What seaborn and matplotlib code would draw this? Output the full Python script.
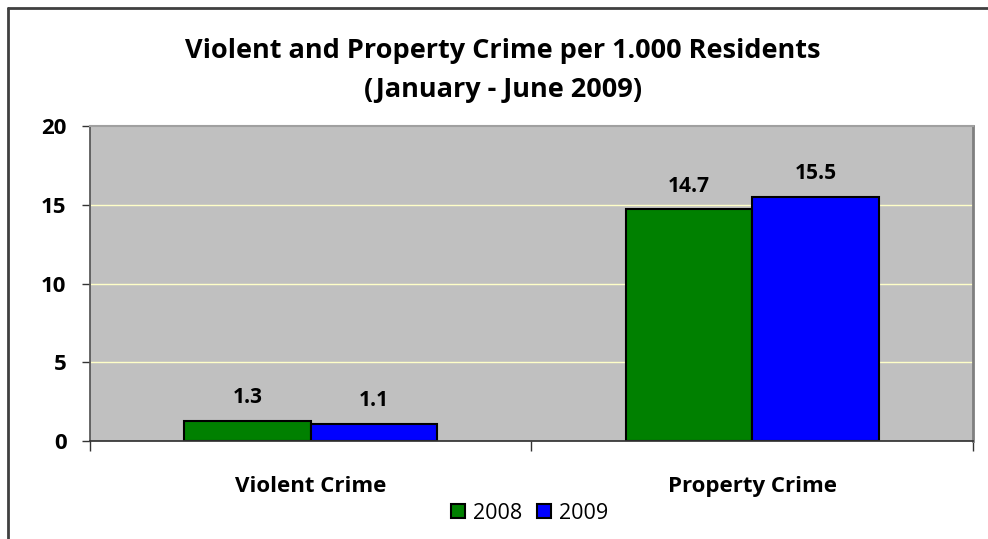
import matplotlib
matplotlib.use("Agg")
import matplotlib.pyplot as plt
from matplotlib.lines import Line2D
from matplotlib.ticker import FixedLocator
import pandas as pd
import seaborn as sns

categories = ["Violent Crime", "Property Crime"]
years = ["2008", "2009"]
values_2008 = [1.3, 14.7]
values_2009 = [1.1, 15.5]
y_ticks = [0, 5, 10, 15, 20]
title_lines = ["Violent and Property Crime per 1.000 Residents", "(January - June 2009)"]

df = pd.DataFrame({
    "category": categories * 2,
    "year": [years[0]] * 2 + [years[1]] * 2,
    "value": values_2008 + values_2009,
})

sns.set_theme(style="white")
plt.rcParams["font.family"] = ["Open Sans", "DejaVu Sans"]
plt.rcParams["text.color"] = "black"
plt.rcParams["xtick.color"] = "black"
plt.rcParams["ytick.color"] = "black"

fig = plt.figure(figsize=(9.88, 5.39), dpi=100)
ax = fig.add_axes([0.0911, 0.1818, 0.8937, 0.5844])
ax.set_facecolor("#C0C0C0")

palette = {"2008": "#008000", "2009": "#0000FF"}
sns.barplot(data=df, x="category", y="value", hue="year", order=categories,
            hue_order=years, palette=palette, width=0.572, gap=0,
            edgecolor="black", linewidth=1.5, saturation=1, ax=ax)

for cont in ax.containers:
    ax.bar_label(cont, fmt="%.1f", padding=9, fontsize=15, fontweight="bold", color="black")

ax.set_xlim(-0.5, 1.5)
ax.set_ylim(0, 20)
ax.set_yticks(y_ticks)
ax.set_yticklabels([str(t) for t in y_ticks], fontsize=16, fontweight="bold")
ax.tick_params(axis="y", length=6, width=1, color="#333333", labelcolor="black",
               pad=11, left=True, direction="out")
ax.set_xticklabels(categories, fontsize=16, fontweight="bold")
ax.tick_params(axis="x", which="major", length=0, pad=25, labelcolor="black")
ax.xaxis.set_minor_locator(FixedLocator([-0.5, 0.5, 1.5]))
ax.tick_params(axis="x", which="minor", length=7, width=1, color="#333333", bottom=True, direction="out")
ax.set_xlabel("")
ax.set_ylabel("")

for y in y_ticks[1:-1]:
    ax.axhline(y, color="#FFFFC8", linewidth=1, zorder=0.5)
ax.set_axisbelow(True)

ax.spines["left"].set_color("#555555")
ax.spines["bottom"].set_color("#333333")
ax.spines["top"].set_color("#A0A0A0")
ax.spines["right"].set_color("#808080")
ax.spines["right"].set_linewidth(2)
ax.spines["top"].set_linewidth(1.5)

leg = ax.legend(loc="center", bbox_to_anchor=(0.536, 0.048), bbox_transform=fig.transFigure,
                ncol=2, frameon=False, fontsize=15.5, handlelength=0.65, handleheight=0.65,
                handletextpad=0.35, columnspacing=0.7, borderpad=0)
for t in leg.get_texts():
    t.set_color("black")

fig.text(0.509, 0.892, title_lines[0], ha="center", va="baseline", fontsize=19.5,
         fontweight="bold", color="black")
fig.text(0.509, 0.820, title_lines[1], ha="center", va="baseline", fontsize=19.5,
         fontweight="bold", color="black")

fig.add_artist(Line2D([0.0081, 0.0081], [0, 0.985], transform=fig.transFigure,
                      color="#404040", linewidth=2))
fig.add_artist(Line2D([0.0081, 1], [0.985, 0.985], transform=fig.transFigure,
                      color="#404040", linewidth=2))

fig.savefig("out.png", dpi=100)
